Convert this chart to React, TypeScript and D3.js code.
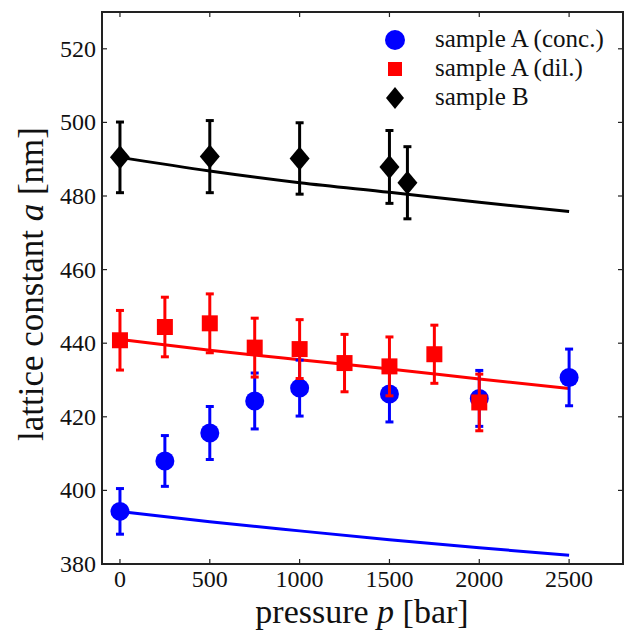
import React from "react";
import * as d3 from "d3";

const pressureConc = [0, 250, 500, 750, 1000, 1500, 2000, 2500];
const latticeConc = [394.3, 408, 415.6, 424.3, 427.8, 426.2, 425, 430.7];
const errConc = [6.2, 6.9, 7.2, 7.6, 7.6, 7.6, 7.6, 7.7];

const pressureDil = [0, 250, 500, 750, 1000, 1250, 1500, 1750, 2000];
const latticeDil = [440.8, 444.4, 445.4, 438.8, 438.4, 434.6, 433.7, 437, 423.9];
const errDil = [8.1, 8.1, 8, 8, 8, 7.8, 8, 7.9, 7.7];

const pressureB = [0, 500, 1000, 1500, 1600];
const latticeB = [490.5, 490.7, 490.2, 487.9, 483.6];
const errB = [9.6, 9.8, 9.7, 9.9, 9.8];

const fitPressure = [0, 500, 1000, 1500, 2000, 2500];
const fitConc = [394.3, 391.5, 389.0, 386.6, 384.4, 382.4];
const fitDil = [441, 438.1, 435.5, 433, 430.3, 427.7];
const fitB = [490.5, 486.8, 483.6, 481, 478.3, 475.8];

const xTicks = [0, 500, 1000, 1500, 2000, 2500];
const yTicks = [380, 400, 420, 440, 460, 480, 500, 520];

const legendLabels = ["sample A (conc.)", "sample A (dil.)", "sample B"];

const W = 626;
const H = 630;
const left = 102;
const right = 623;
const top = 12;
const bottom = 564;

const BLUE = "#0000ff";
const RED = "#ff0000";
const BLACK = "#000000";
const FONT = "Liberation Serif";

function Label(props: any) {
  const { children, ...rest } = props;
  return (
    <text fontFamily={FONT} style={{ fontFamily: FONT }} fill="#111" {...rest}>
      {children}
    </text>
  );
}

export default function App() {
  const x = d3.scaleLinear().domain([-100, 2800]).range([left, right]);
  const y = d3.scaleLinear().domain([380, 530]).range([bottom, top]);

  const line = d3
    .line<number>()
    .x((_, i) => x(fitPressure[i]))
    .y((d) => y(d))
    .curve(d3.curveMonotoneX);

  const errBars = (px: number[], py: number[], pe: number[], color: string) =>
    px.map((p, i) => {
      const cx = x(p);
      const y1 = y(py[i] + pe[i]);
      const y2 = y(py[i] - pe[i]);
      return (
        <g key={"e" + color + i} stroke={color} strokeWidth={3}>
          <line x1={cx} x2={cx} y1={y1} y2={y2} />
          <line x1={cx - 4} x2={cx + 4} y1={y1} y2={y1} />
          <line x1={cx - 4} x2={cx + 4} y1={y2} y2={y2} />
        </g>
      );
    });

  const diamond = (cx: number, cy: number, hw: number, hh: number) =>
    `M${cx},${cy - hh}L${cx + hw},${cy}L${cx},${cy + hh}L${cx - hw},${cy}Z`;

  const legendX = 395;
  const legendY = [40, 69, 98];

  return (
    <svg
      width={W}
      height={H}
      fontFamily={FONT}
      style={{ position: "absolute", left: 0, top: 0, background: "#fff", fontFamily: FONT }}
    >
      <rect x={0} y={0} width={W} height={H} fill="#fff" />

      {/* fit lines */}
      <path d={line(fitConc) || ""} fill="none" stroke={BLUE} strokeWidth={3} />
      <path d={line(fitDil) || ""} fill="none" stroke={RED} strokeWidth={3} />
      <path d={line(fitB) || ""} fill="none" stroke={BLACK} strokeWidth={3} />

      {/* sample A conc */}
      {errBars(pressureConc, latticeConc, errConc, BLUE)}
      {pressureConc.map((p, i) => (
        <circle key={"c" + i} cx={x(p)} cy={y(latticeConc[i])} r={9.5} fill={BLUE} />
      ))}

      {/* sample A dil */}
      {errBars(pressureDil, latticeDil, errDil, RED)}
      {pressureDil.map((p, i) => (
        <rect
          key={"s" + i}
          x={x(p) - 8}
          y={y(latticeDil[i]) - 8}
          width={16}
          height={16}
          fill={RED}
        />
      ))}

      {/* sample B */}
      {errBars(pressureB, latticeB, errB, BLACK)}
      {pressureB.map((p, i) => (
        <path key={"d" + i} d={diamond(x(p), y(latticeB[i]), 10, 12)} fill={BLACK} />
      ))}

      {/* frame */}
      <rect
        x={left}
        y={top}
        width={right - left}
        height={bottom - top}
        fill="none"
        stroke="#222"
        strokeWidth={2}
      />

      {/* x ticks */}
      {xTicks.map((t) => (
        <g key={"xt" + t}>
          <line x1={x(t)} x2={x(t)} y1={bottom} y2={bottom - 5} stroke="#222" strokeWidth={1.2} />
          <line x1={x(t)} x2={x(t)} y1={top} y2={top + 5} stroke="#222" strokeWidth={1.2} />
          <Label x={x(t)} y={587} textAnchor="middle" fontSize={24}>
            {String(t)}
          </Label>
        </g>
      ))}

      {/* y ticks */}
      {yTicks.map((t) => (
        <g key={"yt" + t}>
          <line x1={left} x2={left + 5} y1={y(t)} y2={y(t)} stroke="#222" strokeWidth={1.2} />
          <line x1={right} x2={right - 5} y1={y(t)} y2={y(t)} stroke="#222" strokeWidth={1.2} />
          <Label x={96} y={y(t) + 8} textAnchor="end" fontSize={24}>
            {String(t)}
          </Label>
        </g>
      ))}

      {/* axis labels */}
      <Label x={362} y={622.5} textAnchor="middle" fontSize={34}>
        pressure <tspan fontStyle="italic">p</tspan> [bar]
      </Label>
      <Label
        transform={`translate(43,284) rotate(-90)`}
        textAnchor="middle"
        fontSize={35}
      >
        lattice constant <tspan fontStyle="italic">a</tspan> [nm]
      </Label>

      {/* legend */}
      <circle cx={legendX} cy={legendY[0]} r={10} fill={BLUE} />
      <rect x={legendX - 7} y={legendY[1] - 7} width={14} height={14} fill={RED} />
      <path d={diamond(legendX, legendY[2], 9, 11)} fill={BLACK} />
      {legendLabels.map((lab, i) => (
        <Label key={lab} x={435} y={legendY[i] + 7} fontSize={25}>
          {lab}
        </Label>
      ))}
    </svg>
  );
}
